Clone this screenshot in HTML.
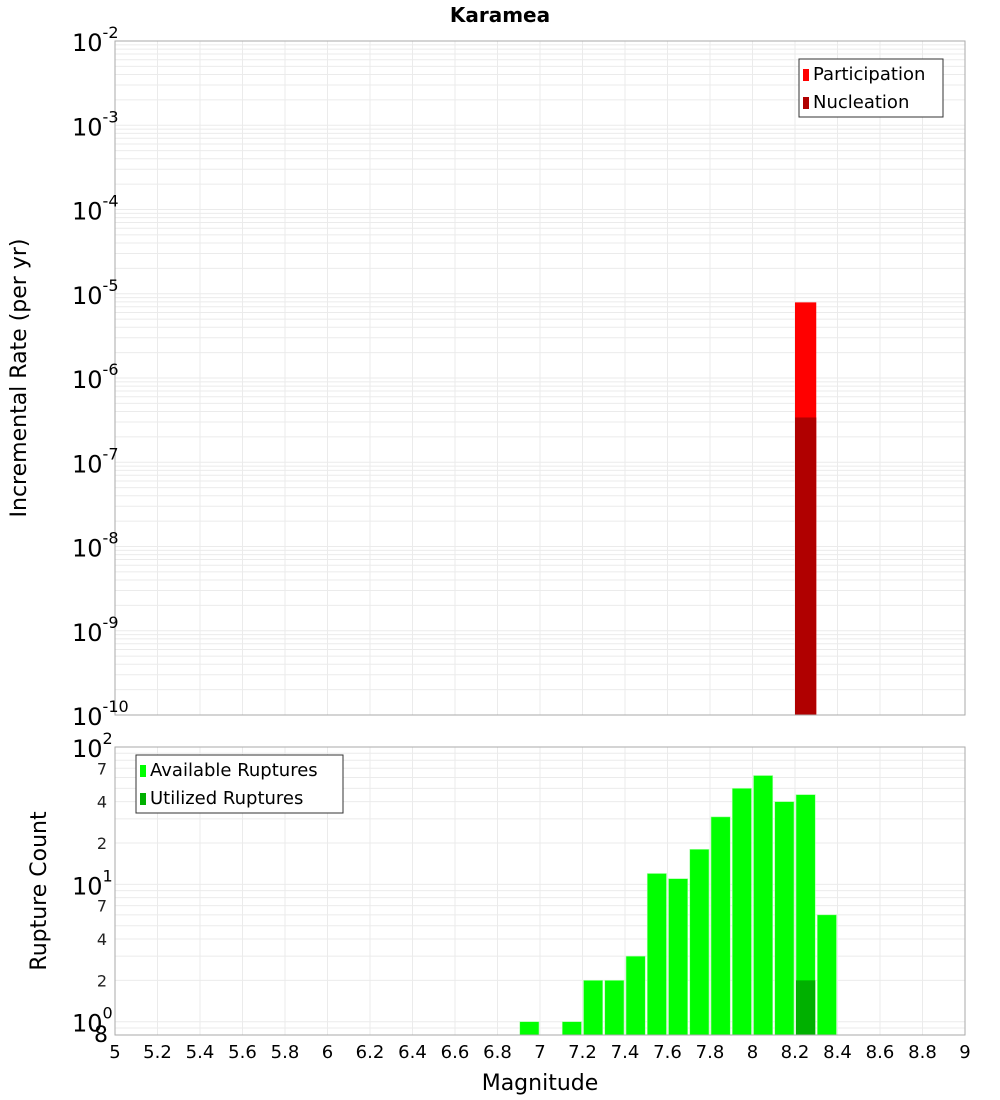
<!DOCTYPE html>
<html><head><meta charset="utf-8"><style>
body{margin:0;background:#fff}
svg{display:block;font-family:"DejaVu Sans","Liberation Sans",sans-serif}
</style></head><body>
<svg id="c" width="1000" height="1100" viewBox="0 0 1000 1100"></svg>
<script>
const binCenters=[6.95,7.05,7.15,7.25,7.35,7.45,7.55,7.65,7.75,7.85,7.95,8.05,8.15,8.25,8.35];
const availableCounts=[1,0,1,2,2,3,12,11,18,31,50,62,40,45,6];
const utilizedCounts=[0,0,0,0,0,0,0,0,0,0,0,0,0,2,0];
const rateBins=[8.25];
const participationRates=[7.9e-6];
const nucleationRates=[3.4e-7];
const xTicks=[5,5.2,5.4,5.6,5.8,6,6.2,6.4,6.6,6.8,7,7.2,7.4,7.6,7.8,8,8.2,8.4,8.6,8.8,9];
const topDecades=[-2,-3,-4,-5,-6,-7,-8,-9,-10];
const botMinorLabels=[2,4,7];

const NS="http://www.w3.org/2000/svg";
const svg=document.getElementById('c');
function el(t,a,p){const e=document.createElementNS(NS,t);for(const k in a)e.setAttribute(k,a[k]);(p||svg).appendChild(e);return e;}
const L=115,R=965,T1=41,B1=715,T2=747,B2=1035;
const x=v=>L+(v-5)/4*(R-L);
const yTop=v=>B1-(Math.log10(v)+10)/8*(B1-T1);
const lmin=Math.log10(0.8),lmax=2;
const yBot=v=>B2-(Math.log10(v)-lmin)/(lmax-lmin)*(B2-T2);

let t=el('text',{x:500,y:22,'text-anchor':'middle','font-size':20,'font-weight':'bold'});t.textContent='Karamea';


const g1=el('g',{});
for(let d=-10;d<-2;d++)for(let m=1;m<10;m++){const yy=yTop(m*Math.pow(10,d));el('line',{x1:L,x2:R,y1:yy,y2:yy,stroke:'#ebebeb','stroke-width':1},g1);}
xTicks.forEach(v=>el('line',{x1:x(v),x2:x(v),y1:T1,y2:B1,stroke:'#ebebeb'},g1));
const g2=el('g',{});
for(let d=-1;d<2;d++)for(let m=1;m<10;m++){const v=m*Math.pow(10,d);if(v<0.8||v>100)continue;const yy=yBot(v);el('line',{x1:L,x2:R,y1:yy,y2:yy,stroke:'#ebebeb'},g2);}
xTicks.forEach(v=>el('line',{x1:x(v),x2:x(v),y1:T2,y2:B2,stroke:'#ebebeb'},g2));

const bw=(x(0.1)-x(0));
rateBins.forEach((b,i)=>{
 let r=el('rect',{x:x(b)-bw/2,y:yTop(participationRates[i]),width:bw,height:B1-yTop(participationRates[i]),fill:'#ff0000'});
 
 r=el('rect',{x:x(b)-bw/2,y:yTop(nucleationRates[i]),width:bw,height:B1-yTop(nucleationRates[i]),fill:'#b00000'});
 
});
binCenters.forEach((b,i)=>{
 if(availableCounts[i]>0){const yy=yBot(availableCounts[i]);
  const r=el('rect',{x:x(b)-bw/2+1,y:yy,width:bw-2,height:B2-yy,fill:'#00ff00',stroke:'#aaffaa','stroke-width':0.6});
  }
 if(utilizedCounts[i]>0){const yy=yBot(utilizedCounts[i]);
  const r=el('rect',{x:x(b)-bw/2+1,y:yy,width:bw-2,height:B2-yy,fill:'#00b000'});
  }
});

el('rect',{x:L,y:T1,width:R-L,height:B1-T1,fill:'none',stroke:'#aaa'});
el('rect',{x:L,y:T2,width:R-L,height:B2-T2,fill:'none',stroke:'#aaa'});

topDecades.forEach(d=>{const yy=yTop(Math.pow(10,d));
 const tx=el('text',{x:72,y:yy+10,'font-size':24});
 tx.innerHTML='10<tspan dy="-13" font-size="16">'+d+'</tspan>';});
[0,1,2].forEach(d=>{const yy=yBot(Math.pow(10,d));
 const tx=el('text',{x:72,y:yy+10,'font-size':24});
 tx.innerHTML='10<tspan dy="-13" font-size="16">'+d+'</tspan>';});
[0,1].forEach(d=>botMinorLabels.forEach(m=>{const yy=yBot(m*Math.pow(10,d));
 const tx=el('text',{x:107,y:yy+6,'font-size':16,'text-anchor':'end',fill:'#222'});tx.textContent=m;
 }));
t=el('text',{x:108,y:1042,'font-size':22,'text-anchor':'end'});t.textContent='8';


xTicks.forEach(v=>{const tx=el('text',{x:x(v),y:1058,'font-size':18,'text-anchor':'middle'});tx.textContent=String(v);
 });
t=el('text',{x:540,y:1090,'font-size':22,'text-anchor':'middle'});t.textContent='Magnitude';

t=el('text',{x:0,y:0,'font-size':22,'text-anchor':'middle',transform:'translate(26,378) rotate(-90)'});t.textContent='Incremental Rate (per yr)';

t=el('text',{x:0,y:0,'font-size':22,'text-anchor':'middle',transform:'translate(46,891) rotate(-90)'});t.textContent='Rupture Count';


function legend(name,x0,y0,w,items){
 const g=el('g',{});
 el('rect',{x:x0,y:y0,width:w,height:58,fill:'#fff',stroke:'#333'},g);
 items.forEach((it,i)=>{el('rect',{x:x0+4,y:y0+10+i*28,width:6,height:12,fill:it[1]},g);
  const tx=el('text',{x:x0+14,y:y0+21+i*28,'font-size':18},g);tx.textContent=it[0];});
}
legend('rate-legend',799,59,144,[['Participation','#ff0000'],['Nucleation','#b00000']]);
legend('count-legend',136,755,207,[['Available Ruptures','#00ff00'],['Utilized Ruptures','#00b000']]);
</script>
</body></html>
